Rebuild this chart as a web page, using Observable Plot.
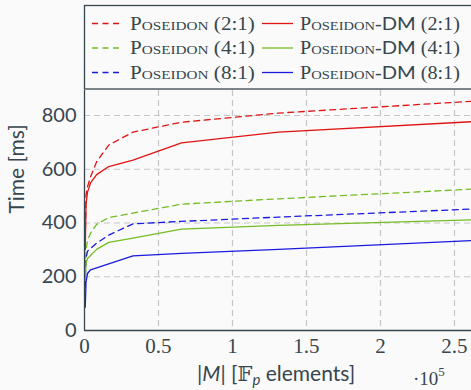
<!DOCTYPE html>
<html>
<head>
<meta charset="utf-8">
<script src="https://cdn.jsdelivr.net/npm/d3@7"></script>
<script src="https://cdn.jsdelivr.net/npm/@observablehq/plot@0.6"></script>
<style>
  html, body { margin: 0; padding: 0; background: #fafafa; }
  #chart { width: 471px; height: 390px; }
</style>
</head>
<body>
<div id="chart"></div>
<script>
// ---- data ----
const sizes = [512, 1024, 2048, 4096, 8192, 16384, 32768, 65536, 131072, 262144];
const poseidon21   = [340, 505, 535, 572, 628, 690, 738, 775, 809, 853];
const poseidonDM21 = [300, 470, 515, 549, 580, 610, 634, 698, 738, 777];
const poseidon41   = [230, 300, 335, 362, 395, 420, 437, 470, 490, 526];
const poseidonDM41 = [190, 250, 268, 279, 302, 328, 344, 377, 391, 412];
const poseidon81   = [160, 270, 295, 305, 325, 355, 397, 406, 422, 452];
const poseidonDM81 = [87, 180, 212, 226, 233, 248, 278, 287, 302, 335];
const seriesNames = ["Poseidon (2:1)", "Poseidon-DM (2:1)", "Poseidon (4:1)", "Poseidon-DM (4:1)", "Poseidon (8:1)", "Poseidon-DM (8:1)"];
const seriesValues = [poseidon21, poseidonDM21, poseidon41, poseidonDM41, poseidon81, poseidonDM81];
const seriesColors = ["#e01414", "#e01414", "#74bd24", "#74bd24", "#1a1ae0", "#1a1ae0"];
const seriesDashed = [true, false, true, false, true, false];
const xTicks = [0, 50000, 100000, 150000, 200000, 250000];
const yTicks = [0, 200, 400, 600, 800];

const rows = [];
seriesNames.forEach((name, i) => {
  sizes.forEach((s, j) => rows.push({series: name, size: s, time: seriesValues[i][j], dashed: seriesDashed[i]}));
});

const ink = "#37464e";
const gridStyle = {stroke: "#c6c6c6", strokeOpacity: 1, strokeWidth: 1.2, strokeDasharray: "6,4"};
const serif = "Liberation Serif";
const sans = "Lato";

const plot = Plot.plot({
  width: 471,
  height: 390,
  marginLeft: 84,
  marginRight: 0,
  marginTop: 90,
  marginBottom: 60,
  style: {background: "#fafafa", color: ink, overflow: "visible"},
  x: {domain: [0, 261500]},
  y: {domain: [0, 893]},
  color: {domain: seriesNames, range: seriesColors},
  marks: [
    Plot.gridX(xTicks.slice(1), gridStyle),
    Plot.gridY(yTicks.slice(1), gridStyle),
    Plot.line(rows.filter(d => d.dashed), {x: "size", y: "time", z: "series", stroke: "series", strokeWidth: 1.3, strokeDasharray: "6,4.5", clip: true}),
    Plot.line(rows.filter(d => !d.dashed), {x: "size", y: "time", z: "series", stroke: "series", strokeWidth: 1.3, clip: true}),
    Plot.ruleX([0], {stroke: ink, strokeWidth: 1.3}),
    Plot.ruleY([0], {stroke: ink, strokeWidth: 1.3}),
    Plot.axisX({ticks: xTicks, tickFormat: d => String(d / 1e5), tickSize: 0, tickPadding: 8, fontSize: 21, fontFamily: serif, label: null}),
    Plot.axisY({ticks: yTicks, tickSize: 0, tickPadding: 8, fontSize: 20, fontFamily: sans, label: null})
  ]
});
document.getElementById("chart").appendChild(plot);

const svg = d3.select(plot);

// y-axis label
svg.append("text")
  .attr("transform", "translate(24,169) rotate(-90)")
  .attr("text-anchor", "middle")
  .attr("font-family", sans).attr("font-size", 21).attr("fill", ink)
  .text("Time [ms]");

// x-axis label
const xl = svg.append("text")
  .attr("x", 197).attr("y", 381).attr("text-anchor", "start")
  .attr("font-family", sans).attr("font-size", 21).attr("fill", ink);
xl.append("tspan").text("|");
xl.append("tspan").attr("font-style", "italic").text("M");
xl.append("tspan").text("| [");
xl.append("tspan").attr("font-family", "DejaVu Serif").text("𝔽");
xl.append("tspan").attr("font-style", "italic").attr("font-size", 15).attr("dy", 4).text("p");
xl.append("tspan").attr("dy", -4).text(" elements]");

const sc = svg.append("text")
  .attr("x", 413).attr("y", 385).attr("text-anchor", "start")
  .attr("font-family", serif).attr("font-size", 19).attr("fill", ink);
sc.append("tspan").text("·10");
sc.append("tspan").attr("font-size", 13).attr("dy", -9).text("5");

// legend
const lg = svg.append("g");
lg.append("rect").attr("x", 84.5).attr("y", 5.5).attr("width", 400).attr("height", 83.5)
  .attr("fill", "#fafafa").attr("stroke", ink).attr("stroke-width", 1.3);
const rowSample = [23.5, 48, 72.5];
const rowBase = [30, 54.5, 79];
function label(g, x, y, name, width) {
  const dm = name.includes("-DM");
  const ratio = name.match(/\(.*\)/)[0];
  const t = g.append("text").attr("x", x).attr("y", y).attr("text-anchor", "start")
    .attr("font-family", serif).attr("font-size", 18).attr("fill", ink);
  t.append("tspan").text("P");
  t.append("tspan").attr("font-size", 13).text("OSEIDON");
  if (dm) t.append("tspan").text("-");
  if (dm) t.append("tspan").attr("font-family", sans).attr("font-size", 18).text("DM");
  t.append("tspan").text(" " + ratio);
  const len = t.node().getComputedTextLength();
  if (len > 0) t.attr("transform", `translate(${x},0) scale(${width / len},1) translate(${-x},0)`);
}
for (let r = 0; r < 3; r++) {
  const iD = r * 2, iS = r * 2 + 1;
  lg.append("line").attr("x1", 92).attr("x2", 122).attr("y1", rowSample[r]).attr("y2", rowSample[r])
    .attr("stroke", seriesColors[iD]).attr("stroke-width", 1.3).attr("stroke-dasharray", "6,4.5");
  label(lg, 130, rowBase[r], seriesNames[iD], 125);
  lg.append("line").attr("x1", 262).attr("x2", 293).attr("y1", rowSample[r]).attr("y2", rowSample[r])
    .attr("stroke", seriesColors[iS]).attr("stroke-width", 1.3);
  label(lg, 300, rowBase[r], seriesNames[iS], 160);
}
</script>
</body>
</html>
